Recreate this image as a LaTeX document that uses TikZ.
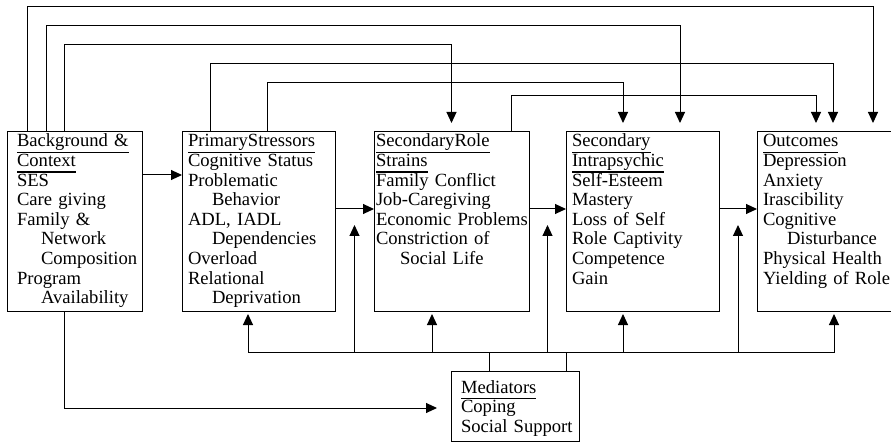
\documentclass[tikz,border=0pt]{standalone}
\usepackage{fontspec}
\setmainfont{Liberation Serif}
\usetikzlibrary{arrows.meta,positioning,calc}

\newsavebox{\hdbox}
\newcommand{\hd}[1]{\leavevmode\sbox{\hdbox}{#1}\rlap{\rule[-6pt]{\wd\hdbox}{1.1pt}}\usebox{\hdbox}}
\newcommand{\ind}{\hspace*{24pt}}
\newcommand{\boxfont}{\fontsize{18.6pt}{19.6pt}\selectfont\hyphenpenalty=10000\relax}

\begin{document}
\begin{tikzpicture}[
    x=1pt, y=1pt,
    box/.style={
        rectangle,
        draw,
        line width=1pt,
        outer sep=0pt,
        align=left,
        inner ysep=0pt,
        inner xsep=6pt,
        text width=141pt,
        text height=15pt,
        text depth=164pt,
        font=\boxfont
    },
    arrow/.style={
        -{Triangle[length=11pt,width=10pt]},
        line width=1pt
    }
]
\useasboundingbox (0,0) rectangle (891,442);

% First row
\node[box, anchor=north west, inner xsep=10pt, text width=115pt] (bg) at (7,310)
    {\hd{Background~\&}\\ \hd{Context}\\ SES\\ Care~giving\\ Family~\&\\
     \ind Network\\ \ind Composition\\ Program\\ \ind Availability};
\node[box, right=40pt of bg] (prim)
    {\hd{PrimaryStressors}\\ Cognitive~Status\\ Problematic\\ \ind Behavior\\
     ADL,~IADL\\ \ind Dependencies\\ Overload\\ Relational\\ \ind Deprivation};
\node[box, right=39pt of prim, inner xsep=2pt, text width=151pt] (role)
    {\hd{SecondaryRole}\\ \hd{Strains}\\ Family~Conflict\\ Job-Caregiving\\
     Economic~Problems\\ Constriction~of\\ \ind Social~Life};
\node[box, right=37pt of role] (intra)
    {\hd{Secondary}\\ \hd{Intrapsychic}\\ Self-Esteem\\ Mastery\\ Loss~of~Self\\
     Role~Captivity\\ Competence\\ Gain};
\node[box, right=38pt of intra, text width=128pt] (out)
    {\hd{Outcomes}\\ Depression\\ Anxiety\\ Irascibility\\ Cognitive\\
     \ind Disturbance\\ Physical~Health\\ Yielding~of~Role};

% Second row
\node[box, anchor=north west, inner xsep=10pt, text width=108pt,
      text height=22pt, text depth=48pt] (med) at (451,71)
    {\hd{Mediators}\\ Coping\\ Social~Support};

% Arrows along the row
\draw[arrow] ([yshift=-43pt]bg.north east) -- ([yshift=-43pt]prim.north west);
\draw[arrow] ([yshift=-77pt]prim.north east) -- ([yshift=-77pt]role.north west);
\draw[arrow] ([yshift=-77pt]role.north east) -- ([yshift=-77pt]intra.north west);
\draw[arrow] ([yshift=-77pt]intra.north east) -- ([yshift=-77pt]out.north west);

\coordinate (j12) at ($([yshift=-77pt]prim.north east)!.5!([yshift=-77pt]role.north west)$);
\coordinate (j23) at ($([yshift=-77pt]role.north east)!.5!([yshift=-77pt]intra.north west)$);
\coordinate (j34) at ($([yshift=-77pt]intra.north east)!.5!([yshift=-77pt]out.north west)$);

% Arrows over the top
\draw[arrow, shorten >=9pt] ([xshift=20pt]bg.north west) -- ++(0,125) -| ([xshift=116pt]out.north west);
\draw[arrow, shorten >=9pt] ([xshift=39pt]bg.north west) -- ++(0,106) -| ([xshift=114pt]intra.north west);
\draw[arrow, shorten >=9pt] ([xshift=57pt]bg.north west) -- ++(0,87) -| (role.north);
\draw[arrow, shorten >=9pt] ([xshift=28pt]prim.north west) -- ++(0,68) -| ([xshift=76pt]out.north west);
\draw[arrow, shorten >=9pt] ([xshift=85pt]prim.north west) -- ++(0,49) -| ([xshift=57pt]intra.north west);
\draw[arrow, shorten >=9pt] ([xshift=137pt]role.north west) -- ++(0,36) -| ([xshift=59pt]out.north west);

% Mediators bus
\draw[line width=1pt] ([xshift=38pt]med.north west) -- ++(0,19) coordinate (busA);
\draw[line width=1pt] ([xshift=115pt]med.north west) -- ++(0,19) coordinate (busB);
\draw[line width=1pt] (busA) -- (busB);
\draw[arrow, shorten >=3pt] (busA) -| ([xshift=66pt]prim.south west);
\draw[arrow, shorten >=3pt] (busB) -| ([xshift=77pt]out.south west);
\draw[arrow, shorten >=3pt] ($(role.south west)+(58,-41)$) -- ([xshift=58pt]role.south west);
\draw[arrow, shorten >=3pt] ($(intra.south west)+(57,-41)$) -- ([xshift=57pt]intra.south west);
\draw[arrow, shorten >=16pt] (j12 |- busA) -- (j12);
\draw[arrow, shorten >=16pt] (j23 |- busA) -- (j23);
\draw[arrow, shorten >=16pt] (j34 |- busA) -- (j34);

% Background to mediators
\draw[arrow, shorten >=14pt] ([xshift=57pt]bg.south west) |- ([yshift=-2pt]med.west);

\end{tikzpicture}
\end{document}
